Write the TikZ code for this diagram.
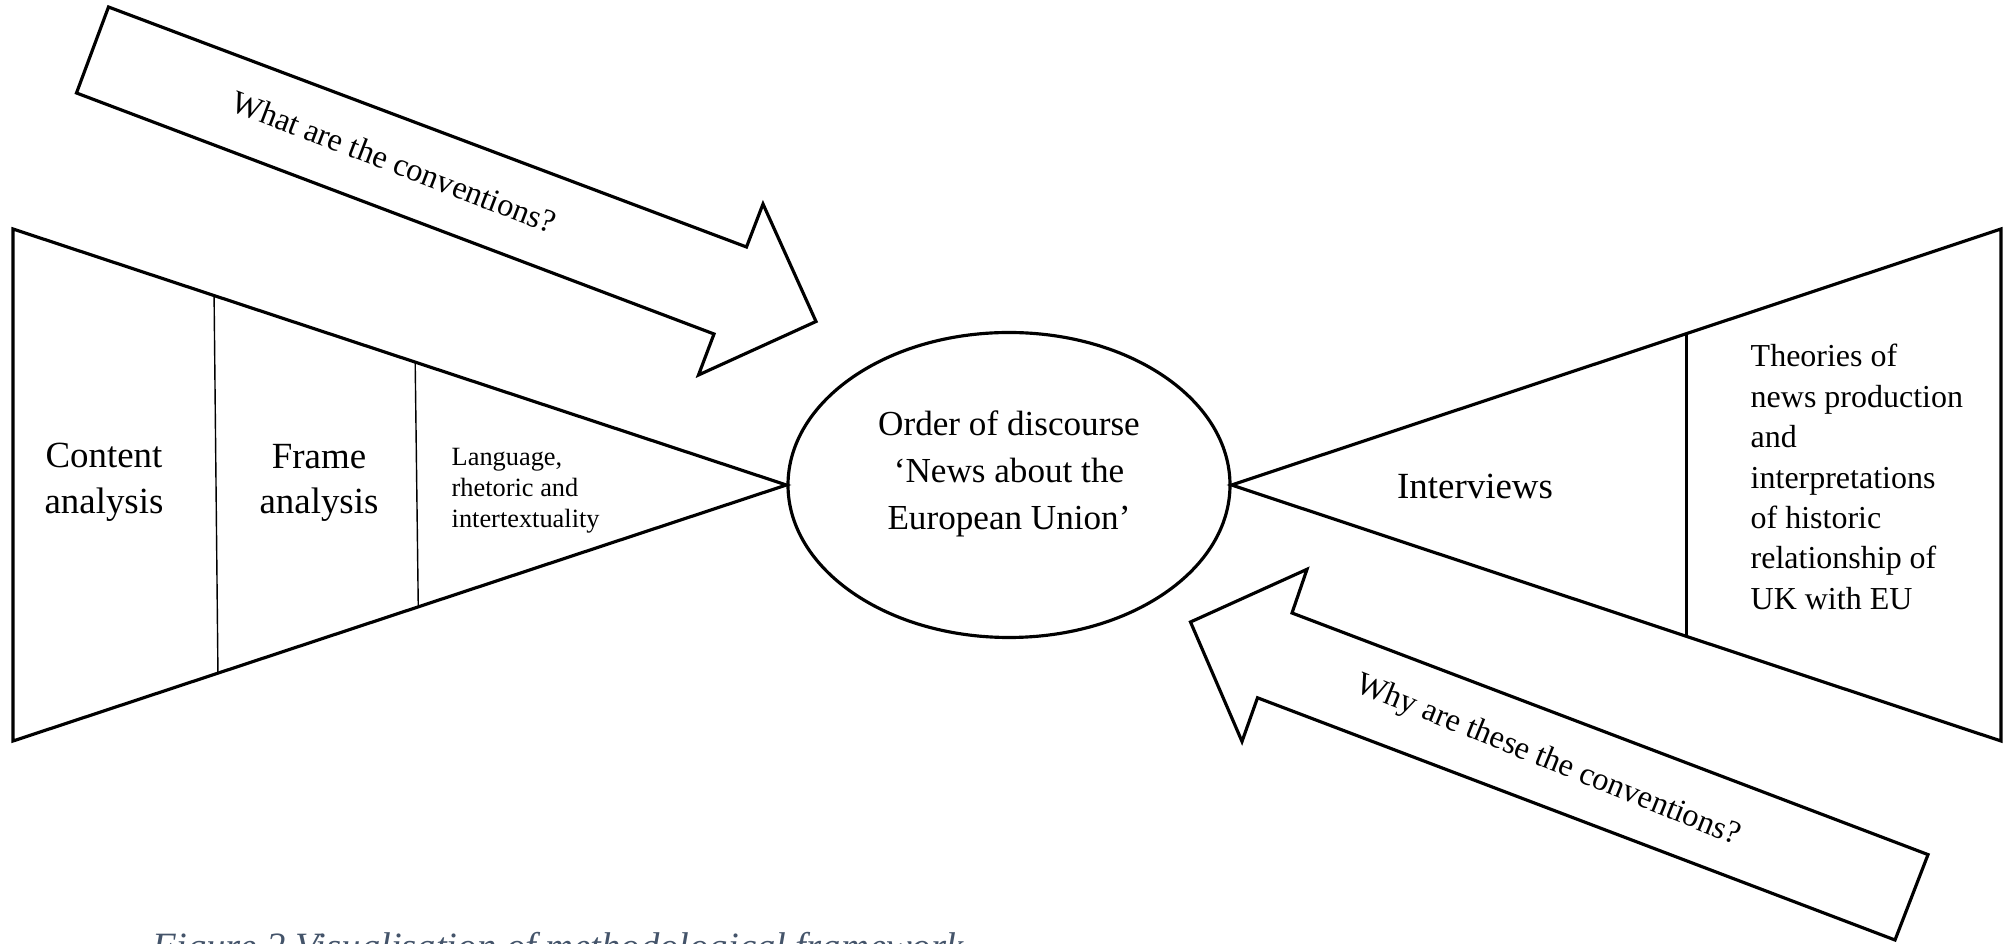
\documentclass[tikz,border=0pt]{standalone}
\usepackage{fontspec}
\setmainfont{Liberation Serif}
\usepackage{xcolor}
\definecolor{captiongray}{HTML}{44546A}
\usetikzlibrary{calc, shapes.geometric}

\tikzset{
    outline/.style={draw, line width=0.9pt},
    divider/.style={line width=0.4pt},
    bigtext/.style={align=center, inner sep=0pt, font=\fontsize{10.5}{13}\selectfont},
    smalltext/.style={align=left, inner sep=0pt, font=\fontsize{7.5}{8.8}\selectfont},
    disctext/.style={align=center, inner sep=0pt, font=\fontsize{10}{13.3}\selectfont},
    sidetext/.style={align=left, inner sep=0pt, font=\fontsize{9.1}{11.5}\selectfont},
    arrowtext/.style={inner sep=0pt, font=\fontsize{9.2}{11}\selectfont},
    captext/.style={inner sep=0pt, text=captiongray, font=\fontsize{11}{13}\selectfont\itshape}
}

\begin{document}
\begin{tikzpicture}
        \useasboundingbox (0,0) rectangle (20.15,9.44);

        \node[ellipse, outline, minimum width=4.42cm, minimum height=3.05cm] at (10.09,4.59) (disc) {};
        \node[disctext] at (10.09,4.70) (disclabel) {Order of discourse\\‘News about the\\European Union’};

        \coordinate (ltop) at (0.13,7.15);
        \coordinate (lbot) at (0.13,2.03);
        \coordinate (rtop) at (20.01,7.15);
        \coordinate (rbot) at (20.01,2.03);

        \draw [outline] (ltop) -- (disc.west) -- (lbot) -- cycle;
        \draw [divider] ($(disc.west)!0.74!(ltop)$) -- ($(disc.west)!0.735!(lbot)$);
        \draw [divider] ($(disc.west)!0.48!(ltop)$) -- ($(disc.west)!0.476!(lbot)$);

        \draw [outline] (disc.east) -- (rtop) -- (rbot) -- cycle;
        \draw [line width=0.7pt] ($(disc.east)!0.591!(rtop)$) -- ($(disc.east)!0.591!(rbot)$);

        \draw [outline] (0.765,8.51) -- (1.085,9.37) -- (7.465,6.97) -- (7.63,7.40)
            -- (8.16,6.225) -- (6.985,5.69) -- (7.14,6.10) -- cycle;
        \draw [outline] (11.905,3.22) -- (13.07,3.747) -- (12.92,3.31) -- (19.28,0.894)
            -- (18.95,0.04) -- (12.575,2.462) -- (12.42,2.025) -- cycle;

        \node[bigtext] at (1.04,4.62) (content) {Content\\analysis};
        \node[bigtext] at (3.19,4.61) (frame) {Frame\\analysis};
        \node[smalltext, anchor=west] at (4.51,4.53) (language) {Language,\\rhetoric and\\intertextuality};
        \node[bigtext] at (14.75,4.58) (interviews) {Interviews};
        \node[sidetext, anchor=west] at (17.50,4.67) (theories) {Theories of\\news production\\and\\interpretations\\of historic\\relationship of\\UK with EU};

        \node[arrowtext, rotate=-21] at (3.94,7.82) (what) {What are the conventions?};
        \node[arrowtext, rotate=-22] at (15.48,1.83) (why) {Why are these the conventions?};

        \node[captext, anchor=base west] at (1.52,-0.15) (caption) {Figure 2 Visualisation of methodological framework};
    \end{tikzpicture}
\end{document}
